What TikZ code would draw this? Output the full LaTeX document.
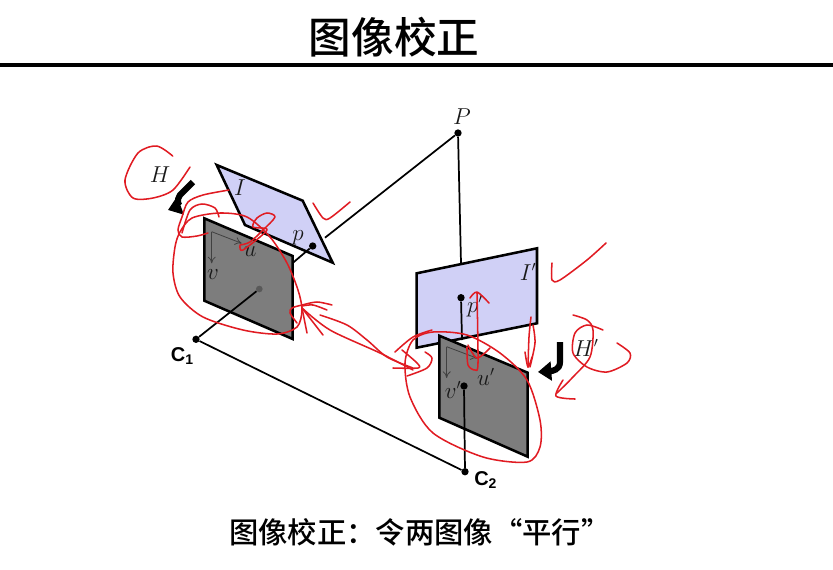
\documentclass[tikz,border=0pt]{standalone}
\usepackage{fontspec}
\newfontfamily\cjk{Noto Sans CJK SC Medium}
\newfontfamily\labelfont{Liberation Sans}
\usetikzlibrary{arrows.meta}
\definecolor{panelblue}{HTML}{D0D0F6}
\definecolor{panelgray}{HTML}{7D7D7D}
\definecolor{inkred}{HTML}{E01B22}
\tikzset{
  dotnode/.style={circle,fill=black,inner sep=0pt,minimum size=5.5pt},
  panelline/.style={line width=1.9pt,line join=miter},
  ink/.style={inkred,line width=1.15pt,line cap=round,line join=round},
  bendarrow/.style={line width=4.6pt,-{Triangle[length=10pt,width=14pt]}},
  axisarrow/.style={line width=0.6pt,draw=black!75,-{To[length=5pt,width=6pt]}},
  camlabel/.style={font=\labelfont\bfseries\fontsize{15}{17}\selectfont,inner sep=0pt},
  mathlabel/.style={font=\fontsize{16}{18}\selectfont,inner sep=0pt,text=black!90}
}
\begin{document}
\begin{tikzpicture}[x=0.75pt,y=-0.75pt]
      \useasboundingbox (0,0) rectangle (833,569);
      \node[font=\cjk\fontsize{32}{36}\selectfont,inner sep=0pt] (title) at (394,37) {图像校正};
      \node[font=\cjk\fontsize{22}{26}\selectfont,inner sep=0pt,anchor=west] (caption) at (229,532) {图像校正：令两图像“平行”};
      \coordinate (ruleL) at (0,65);
      \coordinate (ruleR) at (833,65);
      \draw[line width=2.3pt] (ruleL) -- (ruleR);
      % panels
      \draw
        (216.7,165) coordinate (ia)
        (302.7,200.7) coordinate (ib)
        (332.7,262.7) coordinate (ic)
        (245,225) coordinate (id)
        (204.3,218.3) coordinate (ga)
        (292.7,256) coordinate (gb)
        (292.7,339) coordinate (gc)
        (204.3,300.7) coordinate (gd)
        (416.7,273.3) coordinate (ja)
        (537,248.3) coordinate (jb)
        (537,323.3) coordinate (jc)
        (416.7,347.7) coordinate (jd)
        (439.3,335.7) coordinate (ha)
        (527.7,372.7) coordinate (hb)
        (527.7,456.7) coordinate (hc)
        (439.3,417.7) coordinate (hd);
      \draw[panelline,fill=panelblue] (ia) -- (ib) -- (ic) -- (id) -- cycle;
      \draw[panelline,fill=panelblue] (ja) -- (jb) -- (jc) -- (jd) -- cycle;
      \draw[panelline,fill=panelgray] (ga) -- (gb) -- (gc) -- (gd) -- cycle;
      \draw[panelline,fill=panelgray] (ha) -- (hb) -- (hc) -- (hd) -- cycle;
      \draw
        (458,133) node[dotnode] (P){}
        (312.7,246) node[dotnode] (p){}
        (461,297.7) node[dotnode] (pp){}
        (259.3,289) node[dotnode,fill=black!65,minimum size=5pt] (e){}
        (464,386) node[dotnode] (ep){}
        (196,339.3) node[dotnode] (C1){}
        (465,471.7) node[dotnode] (C2){}
        (325,237.7) coordinate (pin)
        (461,263) coordinate (ptop)
        (293,262.7) coordinate (pout)
        (462,340) coordinate (ppout);
      \begin{scope}[line width=1.3pt]
        \draw (P) to (pin);
        \draw (P) to (ptop);
        \draw (p) to (pout);
        \draw (pp) to (ppout);
        \draw (e) to (C1);
        \draw (ep) to (C2);
        \draw (C1) to (C2);
      \end{scope}
      % image axes
      \draw
        (211.7,231.7) coordinate (oa)
        (211.7,263.3) coordinate (va)
        (241.7,243.3) coordinate (ua)
        (446.7,346.7) coordinate (ob)
        (446.7,378) coordinate (vb)
        (477.3,358.3) coordinate (ub);
      \draw[axisarrow] (oa) -- (va);
      \draw[axisarrow] (oa) -- (ua);
      \draw[axisarrow] (ob) -- (vb);
      \draw[axisarrow] (ob) -- (ub);
      % labels
      \node[mathlabel] (lP) at (462,117) {$P$};
      \node[mathlabel] (lI) at (240,188) {$I$};
      \node[mathlabel] (lp) at (298,238) {$p$};
      \node[mathlabel] (lu) at (250,252) {$u$};
      \node[mathlabel] (lv) at (213,275) {$v$};
      \node[mathlabel] (lH) at (160,175) {$H$};
      \node[mathlabel] (lIp) at (528,272) {$I'$};
      \node[mathlabel] (lpp) at (475,306) {$p'$};
      \node[mathlabel] (lup) at (486,377) {$u'$};
      \node[mathlabel] (lvp) at (453,390) {$v'$};
      \node[mathlabel] (lHp) at (586,348) {$H'$};
      \node[camlabel,anchor=east] (lC1) at (194,356) {C\textsubscript{1}};
      \node[camlabel,anchor=west] (lC2) at (474,480) {C\textsubscript{2}};
      % bent arrows
      \draw
        (193,182) coordinate (ba)
        (168,210) coordinate (bb)
        (560,342) coordinate (bc)
        (538,372) coordinate (bd);
      \draw[bendarrow] (ba) -- (180,195) .. controls (176,200) and (179,206) .. (bb);
      \draw[bendarrow] (bc) -- (560,362) .. controls (560,370) and (552,371) .. (bd);
      % red pen
      \begin{scope}[ink]
        \draw plot[smooth] coordinates {(172.7,156) (156.7,146) (138,153) (125,180) (133,198) (153,198) (173,190) (190,167)};
        \draw plot[smooth] coordinates {(229,190) (203,195) (188,202) (182,217) (178,230) (182,237) (197,236) (208,233)};
        \draw plot[smooth] coordinates {(182,233) (190,210) (202,204) (215,208) (219,217)};
        \draw plot[smooth cycle] coordinates {(180,232) (192,218) (220,213) (247,217) (270,237) (287,263) (298,290) (302,310) (297,327) (277,334) (243,330) (203,317) (180,297) (173,273) (175,247)};
        \draw plot[smooth] coordinates {(240,245) (250,242) (263,230) (275,217) (267,213) (257,218) (253,227) (267,230) (243,250) (240,246)};
        \draw plot[smooth] coordinates {(313,203) (323,218) (330,218) (350,202)};
        \draw plot[smooth] coordinates {(332,305) (317,302) (302,305) (292,308) (290,313) (297,323)};
        \draw plot[smooth] coordinates {(327,310) (313,305) (302,306)};
        \draw plot[smooth] coordinates {(302,308) (307,333)};
        \draw plot[smooth] coordinates {(302,308) (323,335)};
        \draw plot[smooth] coordinates {(302,308) (330,330) (380,353) (413,370)};
        \draw plot[smooth] coordinates {(320,315) (347,325) (367,340) (387,357) (413,368)};
        \draw plot[smooth] coordinates {(395,352) (413,337) (432,330)};
        \draw plot[smooth] coordinates {(402,350) (417,363) (418,368) (393,368)};
        \draw plot[smooth] coordinates {(407,376) (427,368) (432,358) (425,352)};
        \draw plot[smooth cycle] coordinates {(405,363) (410,397) (433,433) (483,457) (527,462) (540,447) (540,420) (527,380) (500,353) (467,335) (433,332) (413,340)};
        \draw plot[smooth] coordinates {(477,293) (478,363) (475,370) (468,365) (467,347)};
        \draw plot[smooth] coordinates {(468,345) (477,358) (490,348)};
        \draw plot[smooth] coordinates {(470,298) (477,292) (489,303)};
        \draw plot[smooth] coordinates {(552,263) (552,280) (560,280) (587,260) (606,243)};
        \draw plot[smooth] coordinates {(531,317) (529,337) (528,367)};
        \draw plot[smooth] coordinates {(525,352) (528,367) (532,357)};
        \draw plot[smooth] coordinates {(533,325) (535,343) (530,367)};
        \draw plot[smooth] coordinates {(573,315) (587,320) (593,330) (590,357) (573,377) (557,393)};
        \draw plot[smooth] coordinates {(563,380) (556,396) (575,399)};
        \draw plot[smooth] coordinates {(603,330) (587,325) (575,333) (573,353) (587,367) (607,372) (627,363) (630,353) (617,343)};
      \end{scope}
    \end{tikzpicture}
\end{document}
